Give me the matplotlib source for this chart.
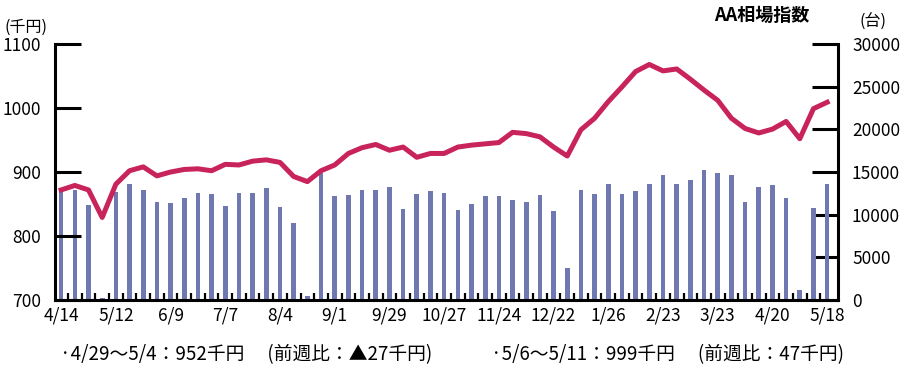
import numpy as np
import matplotlib
matplotlib.use('Agg')
import matplotlib.pyplot as plt
from matplotlib.ticker import FixedLocator

plt.rcParams['font.family'] = ['Noto Sans CJK JP', 'DejaVu Sans']

# AA相場指数 (千円), one point per week
price = [872, 879, 872, 829, 881, 902, 908, 894, 900, 904,
         905, 902, 912, 911, 917, 919, 915, 893, 885, 902,
         911, 929, 938, 943, 934, 939, 923, 929, 929, 939,
         942, 944, 946, 962, 960, 955, 939, 925, 966, 984,
         1010, 1033, 1057, 1068, 1058, 1061, 1045, 1028, 1012, 984,
         968, 961, 967, 979, 952, 999, 1009]

# 出品台数 (台)
units = [13150, 12900, 11080, 200, 12640, 13540, 12840, 11440, 11320, 11900,
         12490, 12370, 10970, 12490, 12490, 13070, 10850, 9020, 500, 14860,
         12140, 12250, 12950, 12950, 13300, 10620, 12370, 12720, 12490, 10500,
         11200, 12140, 12140, 11670, 11440, 12250, 10390, 3730, 12840, 12370,
         13650, 12410, 12720, 13540, 14700, 13540, 14120, 15290, 14940, 14700,
         11440, 13300, 13420, 11900, 1170, 10740, 13540]

date_labels = ['4/14', '5/12', '6/9', '7/7', '8/4', '9/1', '9/29', '10/27',
               '11/24', '12/22', '1/26', '2/23', '3/23', '4/20', '5/18']

note1 = '·4/29～5/4：952千円　 (前週比：▲27千円)'
note2 = '·5/6～5/11：999千円　 (前週比：47千円)'

line_color = '#C8235A'
bar_color = '#7078B2'

x = np.arange(len(price))

fig = plt.figure(figsize=(9.09, 3.79), dpi=100)
ax = fig.add_axes([0.0605, 0.2084, 0.8615, 0.6755])
ax2 = ax.twinx()

ax2.bar(x, units, width=0.34, color=bar_color, zorder=2)
ax.plot(x, price, color=line_color, lw=3.6, solid_joinstyle='round', zorder=3)

ax.set_zorder(ax2.get_zorder() + 1)
ax.patch.set_visible(False)

ax.set_xlim(-0.45, 56.8)
ax.set_ylim(700, 1100)
ax2.set_ylim(0, 30000)

ax.set_yticks([700, 800, 900, 1000, 1100])
ax2.set_yticks([0, 5000, 10000, 15000, 20000, 25000, 30000])

ax.set_xticks(x[::4])
ax.set_xticklabels(date_labels)
ax.xaxis.set_minor_locator(FixedLocator(np.arange(0.5, 56, 1)))
ax.tick_params(axis='x', which='major', length=0, pad=5, labelsize=12.5)
ax.tick_params(axis='x', which='minor', direction='in', length=5, width=1.6)
ax.tick_params(axis='y', direction='in', length=19, width=2.2, pad=10, labelsize=12.5)
ax2.tick_params(axis='y', direction='in', length=19, width=2.2, pad=10, labelsize=12.5)

for s in ['top', 'right']:
    ax.spines[s].set_visible(False)
for s in ['top', 'left', 'bottom']:
    ax2.spines[s].set_visible(False)
for sp in [ax.spines['left'], ax.spines['bottom'], ax2.spines['right']]:
    sp.set_linewidth(2.2)

fig.text(5 / 909, 1 - 27 / 379, '(千円)', fontsize=11.5, va='center', ha='left')
fig.text(873 / 909, 1 - 22 / 379, '(台)', fontsize=11.5, va='center', ha='center')
fig.text(762 / 909, 1 - 15 / 379, 'AA相場指数', fontsize=13, fontweight='bold',
         va='center', ha='center')
fig.text(60 / 909, 1 - 355 / 379, note1, fontsize=13.5, va='center', ha='left')
fig.text(491 / 909, 1 - 355 / 379, note2, fontsize=13.5, va='center', ha='left')

fig.savefig('out.png', dpi=100)
